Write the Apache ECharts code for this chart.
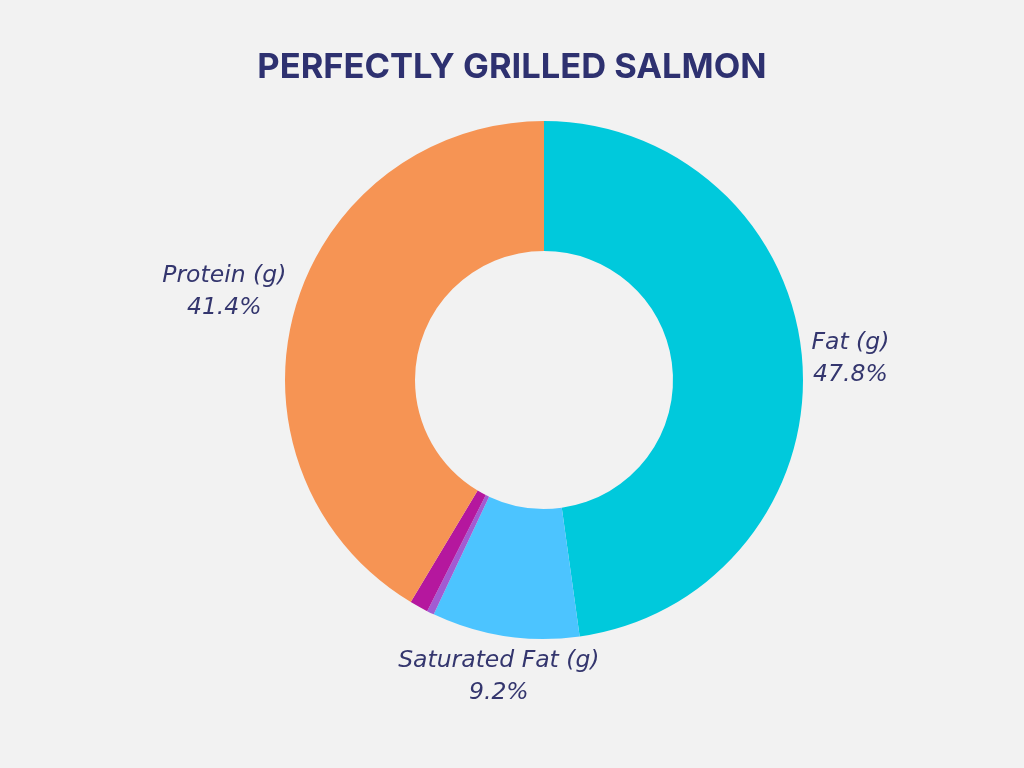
<!DOCTYPE html>
<html>
<head>
<meta charset="utf-8">
<script src="https://cdn.jsdelivr.net/npm/echarts@6/dist/echarts.min.js"></script>
<style>
html,body{margin:0;padding:0;background:#F2F2F2;}
#c{width:1024px;height:768px;}
</style>
</head>
<body>
<div id="c"></div>
<script>
const categories = ['Fat (g)', 'Saturated Fat (g)', 'Carbohydrates (g)', 'Cholesterol (g)', 'Protein (g)'];
const values = [47.8, 9.2, 0.45, 1.15, 41.4];
const colors = ['#00C9DC', '#4CC4FF', '#A25BD2', '#B5179E', '#F69454'];
const showLabel = [true, true, false, false, true];

const CX = 544, CY = 380, R_IN = 129, R_OUT = 259;
const total = values.reduce((a, b) => a + b, 0);

const chart = echarts.init(document.getElementById('c'));
chart.setOption({
  backgroundColor: '#F2F2F2',
  animation: false,
  title: {
    text: 'PERFECTLY GRILLED SALMON',
    left: 'center',
    top: 45,
    textStyle: { fontFamily: 'Inter', fontWeight: 'bold', fontSize: 34.5, color: '#2E3170' }
  },
  series: [{
    type: 'pie',
    center: [CX, CY],
    radius: [R_IN, R_OUT],
    startAngle: 90,
    clockwise: true,
    percentPrecision: 1,
    avoidLabelOverlap: false,
    data: categories.map((name, i) => ({
      name: name,
      value: values[i],
      itemStyle: { color: colors[i] },
      label: { show: showLabel[i] }
    })),
    label: {
      position: 'outside',
      formatter: '{n|{b}}\n{n|{d}%}',
      rich: {
        n: { align: 'center', fontFamily: 'DejaVu Sans', fontStyle: 'italic', fontSize: 23.5, lineHeight: 32, color: '#34366E' }
      }
    },
    labelLine: { show: false, length: 8, length2: 0 },
    labelLayout: function (p) {
      const i = p.dataIndex;
      let before = 0;
      for (let k = 0; k < i; k++) before += values[k];
      const mid = (before + values[i] / 2) / total * Math.PI * 2;
      const dx = Math.sin(mid), dy = -Math.cos(mid);
      const hw = p.labelRect.width / 2, hh = p.labelRect.height * 0.34;
      const d = R_OUT + 8 + hw * Math.abs(dx) + hh * Math.abs(dy);
      return { x: CX + dx * d, y: CY + dy * d, align: 'center', verticalAlign: 'middle' };
    },
    emphasis: { disabled: true }
  }]
});
</script>
</body>
</html>
